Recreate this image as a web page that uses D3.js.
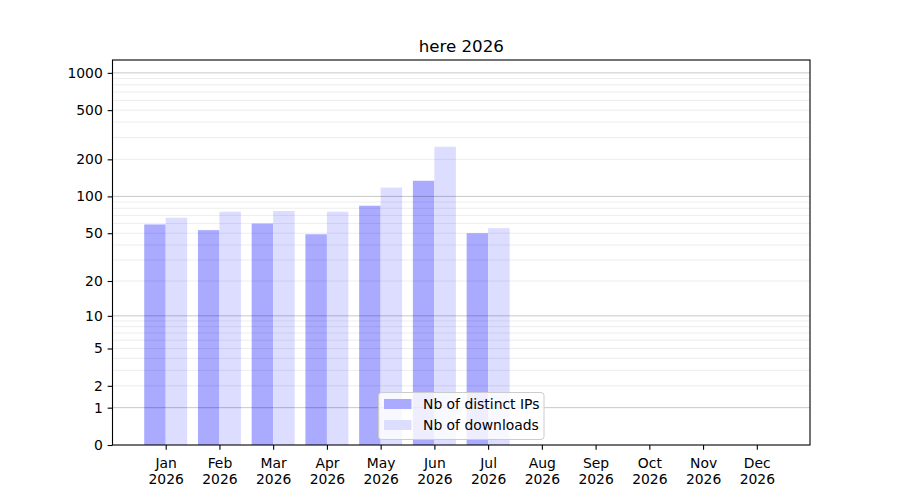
<!DOCTYPE html>
<html>
<head>
<meta charset="utf-8">
<script src="https://cdn.jsdelivr.net/npm/d3@7"></script>
<style>
  body { margin: 0; background: #fff; }
  svg { font-family: "DejaVu Sans", sans-serif; }
</style>
</head>
<body>
<svg id="drawing_region"></svg>
<script>
const months = ["Jan", "Feb", "Mar", "Apr", "May", "Jun", "Jul", "Aug", "Sep", "Oct", "Nov", "Dec"];
const year = "2026";
const distinctIPs = [59, 53, 60, 49, 84, 134, 50, 0, 0, 0, 0, 0];
const downloads = [67, 75, 76, 75, 118, 253, 55, 0, 0, 0, 0, 0];
const yTicks = [0, 1, 2, 5, 10, 20, 50, 100, 200, 500, 1000];
const majorGrid = [1, 10, 100, 1000];
const minorGrid = [2, 3, 4, 5, 6, 7, 8, 9, 20, 30, 40, 50, 60, 70, 80, 90, 200, 300, 400, 500, 600, 700, 800, 900];
const seriesNames = ["Nb of distinct IPs", "Nb of downloads"];
const seriesColors = ["#aaaaff", "#ddddff"];

const config = {
    width: 900,
    height: 500,
    margin: {top: 60, right: 90, bottom: 55, left: 112.5}
};

const svg = d3.select('#drawing_region')
    .attr('width', config.width)
    .attr('height', config.height);

const inner_width = config.width - config.margin.left - config.margin.right;
const inner_height = config.height - config.margin.top - config.margin.bottom;

const chart = svg.append('g')
    .attr('transform', `translate(${config.margin.left}, ${config.margin.top})`);

// x is month index, bars sit at +-0.2
const xscale = d3.scaleLinear()
    .domain([-0.99, 11.99])
    .range([0, inner_width]);

// log10(1+x) style scale
const yscale = d3.scaleSymlog()
    .constant(1)
    .domain([0, 1270])
    .range([inner_height, 0]);

const barW = xscale(0.4) - xscale(0);

const rows = months.map((m, i) => ({i: i, ips: distinctIPs[i], dl: downloads[i]}));

chart.selectAll('.bar-ip')
    .data(rows)
    .enter()
    .append('rect')
    .attr('x', d => xscale(d.i - 0.4))
    .attr('y', d => yscale(d.ips))
    .attr('width', barW)
    .attr('height', d => inner_height - yscale(d.ips))
    .attr('fill', seriesColors[0]);

chart.selectAll('.bar-dl')
    .data(rows)
    .enter()
    .append('rect')
    .attr('x', d => xscale(d.i))
    .attr('y', d => yscale(d.dl))
    .attr('width', barW)
    .attr('height', d => inner_height - yscale(d.dl))
    .attr('fill', seriesColors[1]);

// grid on top of bars
chart.selectAll('.minor-grid')
    .data(minorGrid)
    .enter()
    .append('line')
    .attr('x1', 0)
    .attr('x2', inner_width)
    .attr('y1', d => yscale(d))
    .attr('y2', d => yscale(d))
    .attr('stroke', '#000')
    .attr('stroke-opacity', 0.075)
    .attr('stroke-width', 1);

chart.selectAll('.major-grid')
    .data(majorGrid)
    .enter()
    .append('line')
    .attr('x1', 0)
    .attr('x2', inner_width)
    .attr('y1', d => yscale(d))
    .attr('y2', d => yscale(d))
    .attr('stroke', '#000')
    .attr('stroke-opacity', 0.22)
    .attr('stroke-width', 1);

// axes
const tickLen = 4.86;

const yaxis = d3.axisLeft(yscale)
    .tickValues(yTicks)
    .tickFormat(d3.format('d'))
    .tickSize(tickLen)
    .tickPadding(tickLen);

const yaxis_group = chart.append('g').call(yaxis)
    .attr('font-family', '"DejaVu Sans", sans-serif')
    .attr('font-size', '13.9px');
yaxis_group.select('.domain').remove();
yaxis_group.selectAll('text').attr('fill', '#000');
yaxis_group.selectAll('line').attr('stroke-width', 1.1);

const xaxis = d3.axisBottom(xscale)
    .tickValues(d3.range(months.length))
    .tickFormat('')
    .tickSize(tickLen);

const xaxis_group = chart.append('g')
    .attr('transform', `translate(0, ${inner_height})`)
    .call(xaxis)
    .attr('font-family', '"DejaVu Sans", sans-serif')
    .attr('font-size', '13.9px');
xaxis_group.select('.domain').remove();
xaxis_group.selectAll('line').attr('stroke-width', 1.1);

xaxis_group.selectAll('.tick')
    .append('text')
    .attr('fill', '#000')
    .attr('text-anchor', 'middle')
    .selectAll('tspan')
    .data(d => [months[d], year])
    .enter()
    .append('tspan')
    .attr('x', 0)
    .attr('y', (d, k) => 23 + k * 16.2)
    .text(d => d);

// frame
chart.append('rect')
    .attr('x', 0)
    .attr('y', 0)
    .attr('width', inner_width)
    .attr('height', inner_height)
    .attr('fill', 'none')
    .attr('stroke', '#000')
    .attr('stroke-width', 1.1);

// title
svg.append('text')
    .attr('x', config.margin.left + inner_width / 2)
    .attr('y', 52)
    .attr('text-anchor', 'middle')
    .attr('font-size', '16.67px')
    .attr('fill', '#000')
    .text(`here ${year}`);

// legend, lower center
const legend = chart.append('g')
    .attr('transform', `translate(${inner_width / 2 - 82.75}, ${inner_height - 52.5})`);

legend.append('rect')
    .attr('x', 0)
    .attr('y', 0)
    .attr('width', 165.5)
    .attr('height', 47)
    .attr('rx', 3)
    .attr('fill', '#fff')
    .attr('fill-opacity', 0.8)
    .attr('stroke', '#cccccc')
    .attr('stroke-width', 1);

const item = legend.selectAll('.item')
    .data(seriesNames)
    .enter()
    .append('g')
    .attr('transform', (d, i) => `translate(5.5, ${6.5 + i * 21})`);

item.append('rect')
    .attr('width', 27.5)
    .attr('height', 10)
    .attr('fill', (d, i) => seriesColors[i]);

item.append('text')
    .attr('x', 39)
    .attr('y', 10)
    .attr('font-size', '13.9px')
    .attr('fill', '#000')
    .text(d => d);
</script>
</body>
</html>
